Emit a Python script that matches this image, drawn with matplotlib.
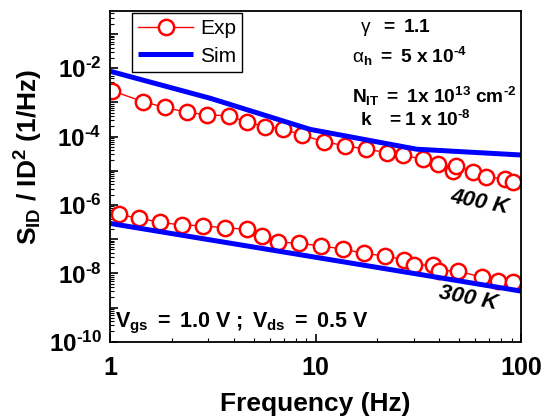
import numpy as np
import matplotlib
matplotlib.use("Agg")
import matplotlib.pyplot as plt
from matplotlib.ticker import FixedLocator, FuncFormatter, LogLocator, NullFormatter

plt.rcParams['font.family'] = ['Liberation Sans', 'DejaVu Sans']
plt.rcParams['mathtext.fontset'] = 'custom'
plt.rcParams['mathtext.rm'] = 'Liberation Sans'
plt.rcParams['mathtext.it'] = 'Liberation Sans:italic'
plt.rcParams['mathtext.bf'] = 'Liberation Sans:bold'

HY = '\u2010'

# ---- data ----
f_exp400 = [1.02, 1.45, 1.85, 2.36, 2.98, 3.79, 4.62, 5.68, 6.97, 8.62, 11.0, 13.9,
            17.7, 22.4, 26.6, 33.2, 39.6, 46.9, 48.3, 58.6, 67.6, 83.6, 91.8]
logS_exp400 = [-2.66, -2.98, -3.15, -3.29, -3.37, -3.39, -3.58, -3.71, -3.78, -3.96, -4.15, -4.27,
               -4.37, -4.47, -4.54, -4.67, -4.80, -5.00, -4.85, -5.05, -5.18, -5.24, -5.32]

f_sim400 = [1.0, 3.07, 9.4, 31.0, 100.0]
logS_sim400 = [-2.09, -2.88, -3.79, -4.37, -4.54]

f_exp300 = [1.10, 1.39, 1.75, 2.25, 2.85, 3.63, 4.62, 5.51, 6.59, 8.34, 10.6, 13.6,
            17.2, 21.9, 27.0, 30.3, 37.4, 39.9, 49.2, 64.8, 77.6, 91.8]
logS_exp300 = [-6.28, -6.39, -6.51, -6.59, -6.61, -6.67, -6.71, -6.90, -7.09, -7.12, -7.20, -7.29,
               -7.42, -7.49, -7.61, -7.76, -7.76, -7.92, -7.93, -8.12, -8.22, -8.26]

f_sim300 = [1.0, 100.0]
logS_sim300 = [-6.54, -8.52]

S_exp400 = 10.0 ** np.array(logS_exp400)
S_sim400 = 10.0 ** np.array(logS_sim400)
S_exp300 = 10.0 ** np.array(logS_exp300)
S_sim300 = 10.0 ** np.array(logS_sim300)

fig = plt.figure(figsize=(5.44, 4.2), dpi=100)
ax = fig.add_axes([110/544, 1-341.7/420, (521-110)/544, (341.7-10.7)/420])

red = '#ff0000'
blue = '#0000ff'
exp_kw = dict(color=red, lw=1.0, marker='o', ms=11, mfc='white', mec=red, mew=1.8)
l_exp, = ax.plot(f_exp400, S_exp400, **exp_kw)
ax.plot(f_exp300, S_exp300, **exp_kw)
l_sim, = ax.plot(f_sim400, S_sim400, color=blue, lw=3.6, solid_capstyle='butt')
ax.plot(f_sim300, S_sim300, color=blue, lw=3.6, solid_capstyle='butt')

ax.set_xscale('log')
ax.set_yscale('log')
ax.set_xlim(1, 100)
ax.set_ylim(1e-10, 10 ** -0.32)

ax.xaxis.set_major_locator(FixedLocator([1, 10, 100]))
ax.xaxis.set_major_formatter(FuncFormatter(lambda v, p: '%d' % round(v)))
ax.xaxis.set_minor_locator(LogLocator(base=10, subs=np.arange(2, 10)))
ax.xaxis.set_minor_formatter(NullFormatter())

ax.yaxis.set_major_locator(FixedLocator([10.0 ** e for e in range(-10, 0)]))
def yfmt(v, p):
    e = int(round(np.log10(v)))
    if e % 2 == 0:
        return '$\\mathbf{10^{' + HY + str(-e) + '}}$'
    return ''
ax.yaxis.set_major_formatter(FuncFormatter(yfmt))
ax.yaxis.set_minor_locator(LogLocator(base=10, subs=np.arange(2, 10), numticks=20))
ax.yaxis.set_minor_formatter(NullFormatter())

ax.tick_params(which='major', direction='in', length=6, width=1.2, labelsize=17.5, pad=6)
ax.tick_params(axis='x', which='major', labelsize=18, pad=10)
ax.tick_params(which='minor', direction='in', length=3, width=0.8)
ax.tick_params(top=False, right=False, which='both')
for lab in ax.get_xticklabels():
    lab.set_fontweight('bold')
for s in ax.spines.values():
    s.set_linewidth(1.3)

ax.set_xlabel('Frequency (Hz)', fontsize=19, fontweight='bold', labelpad=9)
fig.text(29/544, 1-157/420, r'S$_{\mathbf{ID}}$ / ID$^{\mathbf{2}}$ (1/Hz)', fontsize=19,
         fontweight='bold', rotation=90, ha='center', va='center')

leg = ax.legend([l_exp, l_sim], ['Exp', 'Sim'], loc='upper left',
                bbox_to_anchor=(0.054, 0.993), borderaxespad=0, fontsize=15,
                handlelength=2.6, fancybox=False, edgecolor='black', framealpha=1,
                borderpad=0.3, labelspacing=0.4, handletextpad=0.35)
leg.get_frame().set_linewidth(1.0)

tkw = dict(transform=ax.transAxes, fontsize=13.8, ha='left', va='center')
ax.text(0.608, 0.95, r'$\mathrm{\gamma}\ \ \mathbf{=\ 1.1}$', **tkw)
ax.text(0.59, 0.862, r'$\mathrm{\alpha}_{\mathbf{h}}\ \mathbf{=\ 5\ x\ 10^{' + HY + r'4}}$', **tkw)
ax.text(0.59, 0.74, r'$\mathbf{N_{IT}\ =\ 1x\ 10^{13}\ cm^{' + HY + r'2}}$', **tkw)
ax.text(0.608, 0.67, r'$\mathbf{k\ \ \ =1\ x\ 10^{' + HY + r'8}}$', **tkw)

ax.text(0.90, 0.422, '400 K', transform=ax.transAxes, fontsize=16, fontweight='bold',
        fontstyle='italic', rotation=-11, ha='center', va='center')
ax.text(0.871, 0.132, '300 K', transform=ax.transAxes, fontsize=16, fontweight='bold',
        fontstyle='italic', rotation=-11, ha='center', va='center')
ax.text(0.013, 0.056, r'$\mathbf{V_{gs}\ =\ 1.0\ V\ ;\ V_{ds}\ =\ 0.5\ V}$',
        transform=ax.transAxes, fontsize=15.5, ha='left', va='center')

fig.savefig('out.png', dpi=100)
